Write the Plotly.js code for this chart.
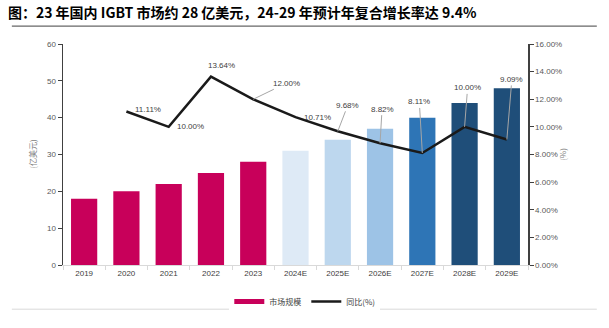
<!DOCTYPE html>
<html><head><meta charset="utf-8">
<script src="https://cdn.plot.ly/plotly-3.0.1.min.js"></script>
<style>html,body{margin:0;padding:0;background:#fff}#chart{width:609px;height:328px}</style>
</head><body><div id="chart"></div>
<script>
const categories = ['2019','2020','2021','2022','2023','2024E','2025E','2026E','2027E','2028E','2029E'];
const marketSize = [18,20,22,25,28,31,34,37,40,44,48];
const yoyCats = ['2020','2021','2022','2023','2024E','2025E','2026E','2027E','2028E','2029E'];
const yoyValues = [11.11,10.00,13.64,12.00,10.71,9.68,8.82,8.11,10.00,9.09];
const barColors = ['#C8005A','#C8005A','#C8005A','#C8005A','#C8005A','#DEEAF6','#BDD7EE','#9DC3E6','#2E75B6','#1F4E79','#1F4E79'];

// label placement (pixel offsets) and whether a leader line is shown
const labelOffsets = [[22,-2,0],[22,0,0],[11,-11,0],[33,-16,1],[22,0,0],[10,-26,1],[2,-34,1],[-3,-51,1],[3,-39,1],[5,-60,1]];

const font = 'Arial, "Liberation Sans", "Noto Sans CJK SC", sans-serif';
const annotations = yoyCats.map((c,i)=>({
  x:categories.indexOf(c), y:yoyValues[i], xref:'x', yref:'y2',
  text: yoyValues[i].toFixed(2)+'%',
  showarrow:true, arrowhead:0, arrowwidth:1,
  arrowcolor: labelOffsets[i][2] ? '#A6A6A6' : 'rgba(0,0,0,0)',
  ax:labelOffsets[i][0], ay:labelOffsets[i][1],
  standoff:0, startstandoff:0,
  font:{family:font,size:8,color:'#404040'},
  bgcolor:'rgba(255,255,255,0)'
}));
annotations.push({xref:'paper',yref:'paper',x:-0.05,xanchor:'right',y:0.5,text:'(亿美元)',textangle:-90,showarrow:false,
  font:{family:'"Noto Sans CJK SC", sans-serif',size:8,color:'#808080'}});
annotations.push({xref:'paper',yref:'paper',x:1.09,y:0.5,text:'(%)',textangle:-90,showarrow:false,
  font:{family:'"Noto Sans CJK SC", sans-serif',size:8,color:'#808080'}});

const data = [
  {type:'bar', name:'市场规模', x:categories, y:marketSize, marker:{color:barColors}, yaxis:'y', showlegend:false, hoverinfo:'none'},
  {type:'scatter', mode:'lines', name:'市场规模', x:[null], y:[null], line:{color:'#C8005A',width:5}, yaxis:'y'},
  {type:'scatter', mode:'lines', name:'同比(%)', x:yoyCats, y:yoyValues, line:{color:'#1a1a1a',width:2.5}, yaxis:'y2', hoverinfo:'none'}
];

const layout = {
  width:609, height:328,
  margin:{l:63,r:81,t:44,b:49},
  paper_bgcolor:'#fff', plot_bgcolor:'#fff',
  bargap:0.38,
  title:{text:'<b>图：23 年国内 IGBT 市场约 28 亿美元，24-29 年预计年复合增长率达 9.4%</b>',
    x:0.013, xanchor:'left', y:0.975, yanchor:'top',
    font:{family:'"Noto Sans CJK SC", sans-serif',size:14,color:'#000'}},
  xaxis:{type:'category', categoryorder:'array', categoryarray:categories, range:[-0.5,10.5],
    showline:true, linecolor:'#D9D9D9', linewidth:1, ticks:'outside', tickcolor:'#D9D9D9', ticklen:4,
    tickson:'boundaries', tickfont:{family:font,size:8,color:'#404040'}, showgrid:false, zeroline:false, fixedrange:true},
  yaxis:{range:[0,60], dtick:10, showline:true, linecolor:'#404040', linewidth:1.5, ticks:'outside', ticklen:4, tickcolor:'#404040',
    tickfont:{family:font,size:8,color:'#595959'}, showgrid:false, zeroline:false},
  yaxis2:{range:[0,16], dtick:2, overlaying:'y', side:'right', showline:true, linecolor:'#404040', linewidth:1.5,
    ticks:'outside', ticklen:4, tickcolor:'#404040', tickformat:'.2f', ticksuffix:'%',
    tickfont:{family:font,size:8,color:'#595959'}, showgrid:false, zeroline:false},
  legend:{orientation:'h', x:0.52, xanchor:'center', y:-0.1, yanchor:'top',
    font:{family:'"Noto Sans CJK SC", sans-serif',size:8,color:'#404040'}, itemwidth:30, tracegroupgap:0},
  annotations:annotations,
  shapes:[
    {type:'line',xref:'paper',yref:'paper',x0:-0.11,x1:1.148,y0:1.081,y1:1.081,line:{color:'#404040',width:1}},
    {type:'line',xref:'paper',yref:'paper',x0:-0.11,x1:1.148,y0:-0.2,y1:-0.2,line:{color:'#D9D9D9',width:1}}
  ]
};
Plotly.newPlot('chart', data, layout, {displayModeBar:false, staticPlot:true});
</script></body></html>
